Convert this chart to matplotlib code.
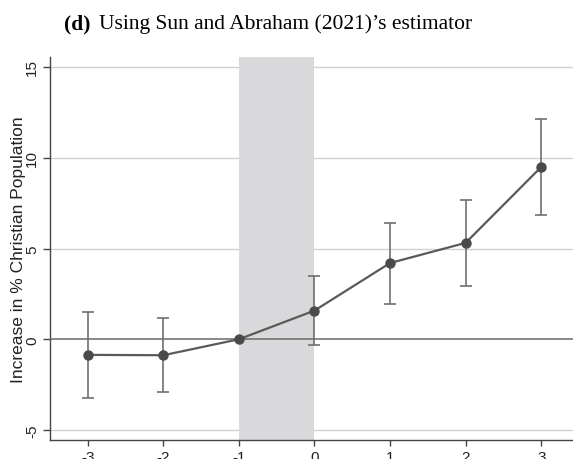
import matplotlib
matplotlib.use("Agg")
import matplotlib.pyplot as plt

periods = [-3, -2, -1, 0, 1, 2, 3]
estimates = [-0.86, -0.88, 0.0, 1.58, 4.20, 5.31, 9.49]
ci_low = [-3.26, -2.93, 0.0, -0.32, 1.92, 2.95, 6.87]
ci_high = [1.50, 1.18, 0.0, 3.48, 6.41, 7.69, 12.11]
yticks = [-5, 0, 5, 10, 15]
xticks = [-3, -2, -1, 0, 1, 2, 3]
title_bold = "(d)"
title_rest = "Using Sun and Abraham (2021)\u2019s estimator"
ylabel = "Increase in % Christian Population"

W, H = 573, 460
fig = plt.figure(figsize=(W / 100, H / 100), dpi=100)
ax = fig.add_axes([50 / W, (H - 441) / H, 529 / W, (441 - 58) / H])

ax.set_xlim(-3.5, 3.5)
ax.set_ylim(-5.55, 15.55)

for y in yticks:
    if y != 0:
        ax.axhline(y, color="#d0d0d0", lw=1.0, zorder=1)
ax.axvspan(-1, 0, color="#d9d9db", lw=0, zorder=2)
ax.axhline(0, color="#6a6a6a", lw=1.1, zorder=3)

idx = [i for i in range(len(periods)) if periods[i] != -1]
xs = [periods[i] for i in idx]
ys = [estimates[i] for i in idx]
lo = [estimates[i] - ci_low[i] for i in idx]
hi = [ci_high[i] - estimates[i] for i in idx]
ax.errorbar(xs, ys, yerr=[lo, hi], fmt="none", ecolor="#707070", elinewidth=1.2,
            capsize=4, capthick=1.2, zorder=4)
ax.plot(periods, estimates, color="#5a5a5a", lw=1.6, marker="o", ms=6.5,
        mfc="#4a4a4a", mec="#4a4a4a", zorder=5)

for s in ["top", "right"]:
    ax.spines[s].set_visible(False)
for s in ["left", "bottom"]:
    ax.spines[s].set_color("#444444")
    ax.spines[s].set_linewidth(1.0)

ax.set_yticks(yticks)
ax.set_yticklabels([str(v) for v in yticks], rotation=90, va="center",
                   fontsize=11, family="Liberation Sans")
ax.set_xticks(xticks)
ax.set_xticklabels([str(v) for v in xticks], fontsize=11, family="Liberation Sans")
ax.tick_params(axis="y", direction="out", length=5, color="#444444", width=1.0,
               labelcolor="#222222", pad=3)
ax.tick_params(axis="x", direction="out", length=4.5, color="#444444", width=1.0,
               labelcolor="#222222", pad=2.5)
ax.set_ylabel(ylabel, fontsize=12.5, family="Liberation Sans", color="#222222")
ax.yaxis.set_label_coords((26 - 50) / 529, 0.5)

# Title in two parts (bold + regular)
fig.canvas.draw()
r = fig.canvas.get_renderer()
t1 = fig.text(0, 0, title_bold, fontsize=15.5, weight="bold", family="Liberation Serif")
t2 = fig.text(0, 0, title_rest, fontsize=15.5, family="Liberation Serif")
w1 = t1.get_window_extent(r).width
w2 = t2.get_window_extent(r).width
gap = 9
total = w1 + gap + w2
cx = 268
x0 = cx - total / 2
ty = (H - 29) / H
t1.set_position((x0 / W, ty))
t2.set_position(((x0 + w1 + gap) / W, ty))

fig.savefig("out.png", dpi=100)
